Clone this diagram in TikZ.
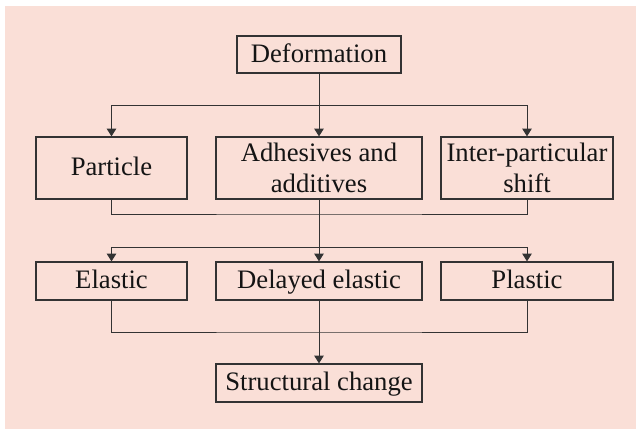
\documentclass[tikz,border=0pt]{standalone}
\usepackage{fontspec}
\setmainfont{Liberation Serif}
\usepackage{tikz}
\usetikzlibrary{arrows.meta, calc, positioning}
\definecolor{panelpink}{HTML}{FADFD7}
\definecolor{inkgray}{HTML}{333333}
\tikzset{
  flowbox/.style  = {draw=inkgray, line width=0.9pt, inner sep=0pt,
                     align=center, font=\fontsize{20}{23}\selectfont,
                     text=black!92},
  oneline/.style  = {text height=13.6pt, text depth=1.8pt},
  flowtop/.style  = {flowbox, oneline, minimum width=123pt, minimum height=27.75pt},
  flowleft/.style = {flowbox, minimum width=113.25pt},
  flowmid/.style  = {flowbox, minimum width=154.5pt},
  flowright/.style= {flowbox, minimum width=129pt},
  tallrow/.style  = {minimum height=46.5pt},
  lowrow/.style   = {oneline, minimum height=28.5pt},
  flowline/.style = {draw=inkgray, line width=0.75pt},
  flowarrow/.style= {flowline, -{Triangle[width=7pt, length=5.75pt]}},
}

\begin{document}
\begin{tikzpicture}[x=0.75pt, y=-0.75pt]
  \useasboundingbox (0,0) rectangle (636,429);
  \fill[panelpink] (5,6) rectangle (636,429);
  % boxes
  \node[flowtop]            (deform)  at (319,54.5) {Deformation};
  \node[flowleft, tallrow, oneline] (particle) at (111.5,168) {Particle};
  \node[flowmid, tallrow]   (adhes)   at (319,168) {Adhesives and\\additives};
  \node[flowright, tallrow] (shift)   at (527,168) {Inter-particular\\shift};
  \node[flowleft, lowrow]   (elastic) at (111.5,281) {Elastic};
  \node[flowmid, lowrow]    (delayed) at (319,281) {Delayed elastic};
  \node[flowright, lowrow]  (plastic) at (527,281) {Plastic};
  \node[flowmid, lowrow]    (structural) at (319,383) {Structural change};
  % junctions
  \coordinate (split1) at (319,105);
  \coordinate (merge1) at (319,214);
  \coordinate (split2) at (319,247);
  \coordinate (merge2) at (319,332);
  % connectors
  \draw[flowline] (deform.south) -- (split1);
  \foreach \n in {particle, adhes, shift}
    {\draw[flowarrow] (split1) -| (\n.north);}
  \draw[flowline] (particle.south) |- (merge1) -| (shift.south);
  \draw[flowline] (adhes.south) -- (split2);
  \foreach \n in {elastic, delayed, plastic}
    {\draw[flowarrow] (split2) -| (\n.north);}
  \draw[flowline] (elastic.south) |- (merge2) -| (plastic.south);
  \draw[flowarrow] (delayed.south) -- (structural.north);
\end{tikzpicture}
\end{document}
